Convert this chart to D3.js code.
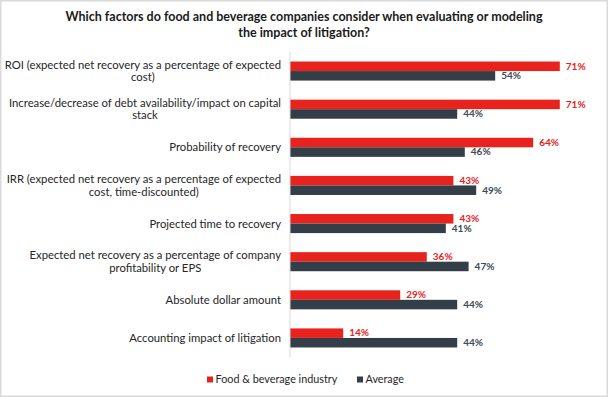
<!DOCTYPE html>
<html>
<head>
<meta charset="utf-8">
<script src="https://cdn.jsdelivr.net/npm/d3@7"></script>
<style>
  html, body { margin: 0; padding: 0; background: #fff; }
  svg { display: block; }
  .title { font: bold 12.5px Lato, sans-serif; fill: #1a1a1a; }
  .cat { font: 11.3px Lato, sans-serif; fill: #262626; }
  .val { font: bold 10px Lato, sans-serif; }
  .lgd { font: 10.8px Lato, sans-serif; fill: #262626; }
</style>
</head>
<body>
<div id="chart"></div>
<script>
/* data */
var categories = [
        "ROI (expected net recovery as a percentage of expected\ncost)",
        "Increase/decrease of debt availability/impact on capital\nstack",
        "Probability of recovery",
        "IRR (expected net recovery as a percentage of expected\ncost, time-discounted)",
        "Projected time to recovery",
        "Expected net recovery as a percentage of company\nprofitability or EPS",
        "Absolute dollar amount",
        "Accounting impact of litigation"
    ],
    foodValues = [71, 71, 64, 43, 43, 36, 29, 14],
    avgValues = [54, 44, 46, 49, 41, 47, 44, 44],
    seriesNames = ["Food & beverage industry", "Average"],
    titleLines = [
        "Which factors do food and beverage companies consider when evaluating or modeling",
        "the impact of litigation?"
    ];

/* sizes */
var width = 608,
    height = 397,
    plot = { left: 290, top: 52, bottom: 357 },
    labelRight = 281,
    lineH = 12.5,
    colRed = "#e8231d",
    colDark = "#333e48";

var svg = d3.select("#chart")
    .append("svg")
    .attr("width", width)
    .attr("height", height);

// frame
svg.append("rect")
    .attr("x", 0.75)
    .attr("y", 0.75)
    .attr("width", width - 1.5)
    .attr("height", height - 1.5)
    .attr("fill", "#fff")
    .attr("stroke", "#d9d9d9")
    .attr("stroke-width", 1.5);

// title
svg.append("text")
    .attr("class", "title")
    .attr("text-anchor", "middle")
    .selectAll("tspan")
    .data(titleLines)
    .join("tspan")
    .attr("x", 304)
    .attr("y", (d, i) => 21 + i * 16)
    .text(d => d);

/* scales */
var x = d3.scaleLinear()
    .domain([0, 80])
    .range([plot.left, plot.left + 80 * 3.8]),
    y = d3.scaleBand()
    .domain(d3.range(categories.length))
    .range([plot.top, plot.bottom])
    .paddingInner(0.5)
    .paddingOuter(0.25),
    sub = d3.scaleBand()
    .domain([0, 1])
    .range([0, y.bandwidth()]);

var rows = categories.map((c, i) => ({
    label: c,
    vals: [foodValues[i], avgValues[i]]
}));

var row = svg.append("g")
    .selectAll("g")
    .data(rows)
    .join("g")
    .attr("transform", (d, i) => "translate(0," + y(i) + ")");

// bars
row.selectAll("rect")
    .data(d => d.vals)
    .join("rect")
    .attr("x", x(0))
    .attr("y", (d, j) => sub(j))
    .attr("width", d => x(d) - x(0))
    .attr("height", sub.bandwidth())
    .attr("fill", (d, j) => j ? colDark : colRed);

// value labels
row.selectAll("text.val")
    .data(d => d.vals)
    .join("text")
    .attr("class", "val")
    .attr("x", d => x(d) + 6)
    .attr("y", (d, j) => sub(j) + sub.bandwidth() / 2)
    .attr("dy", "0.33em")
    .attr("fill", (d, j) => j ? "#404a53" : colRed)
    .text(d => d + "%");

// category labels (lines centered within a right-aligned block)
row.each(function (d) {
    var lines = d.label.split("\n"),
        g = d3.select(this),
        t = g.append("text")
        .attr("class", "cat")
        .attr("text-anchor", "middle"),
        spans = t.selectAll("tspan")
        .data(lines)
        .join("tspan")
        .attr("y", (l, k) => y.bandwidth() / 2 + (k - (lines.length - 1) / 2) * lineH)
        .attr("dy", "0.35em")
        .text(l => l),
        w = d3.max(spans.nodes(), n => n.getComputedTextLength());
    spans.attr("x", labelRight - w / 2);
});

// axis line
svg.append("line")
    .attr("x1", x(0))
    .attr("x2", x(0))
    .attr("y1", plot.top)
    .attr("y2", plot.bottom)
    .attr("stroke", "#d9d9d9")
    .attr("stroke-width", 1);

/* legend */
var lgd = svg.append("g")
    .attr("transform", "translate(207,379.5)"),
    lgdX = [0, 150];

var item = lgd.selectAll("g")
    .data(seriesNames)
    .join("g")
    .attr("transform", (d, i) => "translate(" + lgdX[i] + ",0)");

item.append("rect")
    .attr("x", 0)
    .attr("y", -3)
    .attr("width", 6)
    .attr("height", 6)
    .attr("fill", (d, i) => i ? colDark : colRed);

item.append("text")
    .attr("class", "lgd")
    .attr("x", 8.5)
    .attr("dy", "0.35em")
    .text(d => d);
</script>
</body>
</html>
